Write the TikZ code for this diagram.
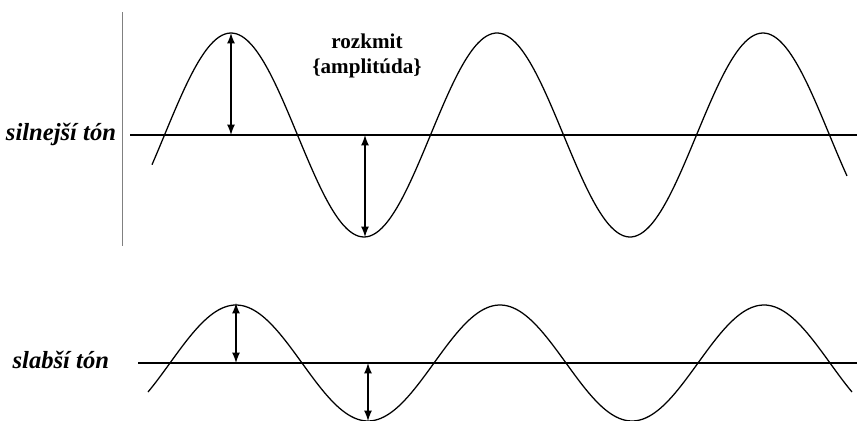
\documentclass[tikz,border=0pt]{standalone}
\usepackage{fontspec}
\setmainfont{Liberation Serif}

\begin{document}
\begin{tikzpicture}[x=0.025cm, y=-0.025cm, >=latex,
    wave/.style={line width=0.9pt},
    axis/.style={line width=1.8pt},
    amp/.style={<->, line width=1.5pt},
    tonelabel/.style={font=\bfseries\itshape\fontsize{17.5}{20}\selectfont}]
  \useasboundingbox (0,0) rectangle (857,421);
  \def\ya{135}   % axis, strong tone
  \def\yb{363}   % axis, weak tone
  \coordinate (A0) at (231,\ya);  % strong tone
  \coordinate (A1) at (231,33);
  \coordinate (B0) at (365,\ya);
  \coordinate (B1) at (365,237);
  \coordinate (C0) at (236,\yb);  % weak tone
  \coordinate (C1) at (236,303);
  \coordinate (D0) at (368,\yb);
  \coordinate (D1) at (368,421);
  \coordinate (V0) at (122,12);
  \coordinate (V1) at (122,246);
  \draw[gray, line width=0.6pt] (V0) -- (V1);
  % axes
  \coordinate (LA) at (130,\ya);
  \coordinate (RA) at (857,\ya);
  \coordinate (LB) at (138,\yb);
  \coordinate (RB) at (857,\yb);
  \draw[axis] (LA) -- (RA);
  \draw[axis] (LB) -- (RB);
  % waves
  \draw[wave] plot[domain=152:847, samples=240, smooth]
    (\x, {\ya-102*cos(360/266*(\x-231))});
  \draw[wave] plot[domain=148:852, samples=240, smooth]
    (\x, {\yb-58*cos(360/264*(\x-236))});
  % amplitudes
  \draw[amp] (A0) -- (A1);
  \draw[amp] (B0) -- (B1);
  \draw[amp] (C0) -- (C1);
  \draw[amp] (D0) -- (D1);
  % labels
  \node[tonelabel, anchor=base east] (strong) at (121,140) {silnejší tón};
  \node[tonelabel, anchor=base east] (weak) at (114,368) {slabší tón};
  \node[font=\bfseries\fontsize{15}{17.5}\selectfont, align=center] (amplabel) at (367,56) {rozkmit\\\{amplitúda\}};
\end{tikzpicture}
\end{document}
